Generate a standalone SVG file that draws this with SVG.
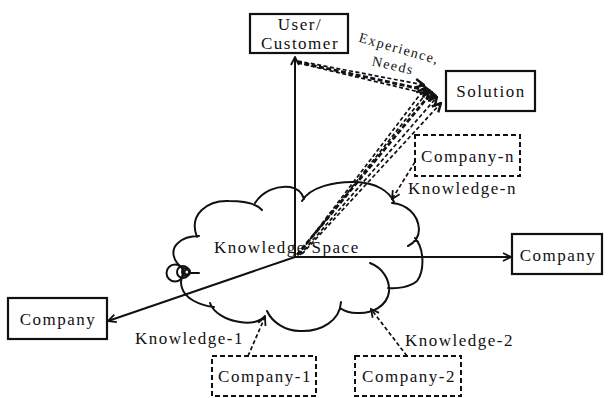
<svg xmlns="http://www.w3.org/2000/svg" width="608" height="398" viewBox="0 0 608 398" font-family="'Liberation Serif', 'DejaVu Serif', serif">
<style>
.t{font-family:'Liberation Serif','DejaVu Serif',serif;font-size:17px;letter-spacing:1.5px;fill:#111}
.s{font-size:14px}
.box{fill:#fff;stroke:#111;stroke-width:2.2}
.dbox{fill:#fff;stroke:#111;stroke-width:2;stroke-dasharray:5 3}
.ax{stroke:#111;stroke-width:2;fill:none}
.dl{stroke:#111;stroke-width:1.7;fill:none;stroke-dasharray:4 2.5}
.thk{stroke-width:2.8;stroke-dasharray:5 2.5}
.cloud{stroke:#111;stroke-width:2;fill:none;stroke-linecap:round}
</style>
<defs>
<marker id="oa" viewBox="0 0 10 10" refX="9" refY="5" markerWidth="10" markerHeight="10" markerUnits="userSpaceOnUse" orient="auto">
<path d="M1,1 L9,5 L1,9" fill="none" stroke="#111" stroke-width="1.8"/>
</marker>
<marker id="fa" viewBox="0 0 10 10" refX="9" refY="5" markerWidth="11" markerHeight="11" markerUnits="userSpaceOnUse" orient="auto">
<path d="M1,1 L9,5 L1,9" fill="none" stroke="#111" stroke-width="2.2"/>
</marker>
</defs>
<rect width="608" height="398" fill="#fff"/>

<g id="cloud">
<path class="cloud" d="M197,237 C188,214 208,200 229,201 C244,201 256,203 262,210
M255,203 C262,192 276,185 290,187 C297,188 302,193 304,199
M302,201 C310,187 335,181 357,182 C376,183 389,191 394,202
M392,203 C406,204 418,214 419,229 C419,237 414,243 408,246
M415,238 C424,248 425,270 417,281 C410,287 398,289 388,288
M370,263 C383,268 390,280 389,292 C387,306 372,314 357,313 C350,313 344,311 340,308
M341,302 C340,320 322,332 300,331 C285,331 272,322 267,311
M265,316 C260,322 250,324 240,322 C225,320 213,312 210,303
M214,307 C198,305 185,298 182,288 C180,282 181,277 184,272
M183,268 C173,262 170,250 178,243 C183,238 190,236 199,236"/>
<circle class="cloud" cx="175" cy="273" r="8.5"/>
<circle class="cloud" cx="183" cy="272" r="6"/>
<circle class="cloud" cx="186" cy="272" r="4"/>
<circle class="cloud" cx="187" cy="272" r="2.5"/>
<line class="cloud" x1="190" y1="273" x2="199" y2="273"/>
<text class="t" x="214" y="253" font-family="'Liberation Serif', serif">Knowledge Space</text>
</g>

<g id="connectors">
<line class="ax" x1="295" y1="257" x2="295" y2="57" marker-end="url(#oa)"/>
<line class="ax" x1="295" y1="257" x2="511" y2="257" marker-end="url(#oa)"/>
<line class="ax" x1="295" y1="257" x2="108" y2="321" marker-end="url(#oa)"/>
<line class="dl thk" x1="297" y1="62" x2="430" y2="91" marker-end="url(#fa)"/>
<line class="dl" x1="298" y1="61" x2="424" y2="85" marker-end="url(#fa)"/>
<line class="dl" x1="298" y1="63" x2="436" y2="96" marker-end="url(#fa)"/>
<line class="dl thk" x1="297" y1="255" x2="432" y2="92" marker-end="url(#fa)"/>
<line class="dl" x1="298" y1="255" x2="425" y2="88" marker-end="url(#fa)"/>
<line class="dl" x1="300" y1="255" x2="437" y2="97" marker-end="url(#fa)"/>
<line class="dl" x1="302" y1="254" x2="441" y2="103" marker-end="url(#fa)"/>
<line class="dl" x1="299" y1="254" x2="429" y2="90" marker-end="url(#fa)"/>
<line class="dl" x1="415" y1="162" x2="392" y2="199" marker-end="url(#oa)"/>
<line class="dl" x1="248" y1="356" x2="265" y2="317" marker-end="url(#oa)"/>
<line class="dl" x1="407" y1="356" x2="371" y2="309" marker-end="url(#oa)"/>
<text class="t s" transform="translate(398,53) rotate(16)" text-anchor="middle">Experience,</text>
<text class="t s" transform="translate(392,70) rotate(13)" text-anchor="middle">Needs</text>
<text class="t" x="408" y="194">Knowledge-n</text>
<text class="t" x="135" y="344">Knowledge-1</text>
<text class="t" x="405" y="346">Knowledge-2</text>
</g>

<g id="user">
<rect class="box" x="250" y="14" width="98" height="39"/>
<text class="t" x="300" y="30" text-anchor="middle">User/</text>
<text class="t" x="300" y="49" text-anchor="middle">Customer</text>
</g>
<g id="solution">
<rect class="box" x="446" y="71" width="89" height="40"/>
<text class="t" x="491" y="97" text-anchor="middle">Solution</text>
</g>
<g id="company-right">
<rect class="box" x="512" y="234" width="90" height="40"/>
<text class="t" x="558" y="261" text-anchor="middle">Company</text>
</g>
<g id="company-left">
<rect class="box" x="8" y="298" width="99" height="41"/>
<text class="t" x="58" y="325" text-anchor="middle">Company</text>
</g>
<g id="company-n">
<rect class="dbox" x="415" y="135" width="105" height="41"/>
<text class="t" x="468" y="162" text-anchor="middle">Company-n</text>
</g>
<g id="company-1">
<rect class="dbox" x="212" y="356" width="104" height="40"/>
<text class="t" x="265" y="382" text-anchor="middle">Company-1</text>
</g>
<g id="company-2">
<rect class="dbox" x="355" y="356" width="106" height="40"/>
<text class="t" x="409" y="382" text-anchor="middle">Company-2</text>
</g>
</svg>
